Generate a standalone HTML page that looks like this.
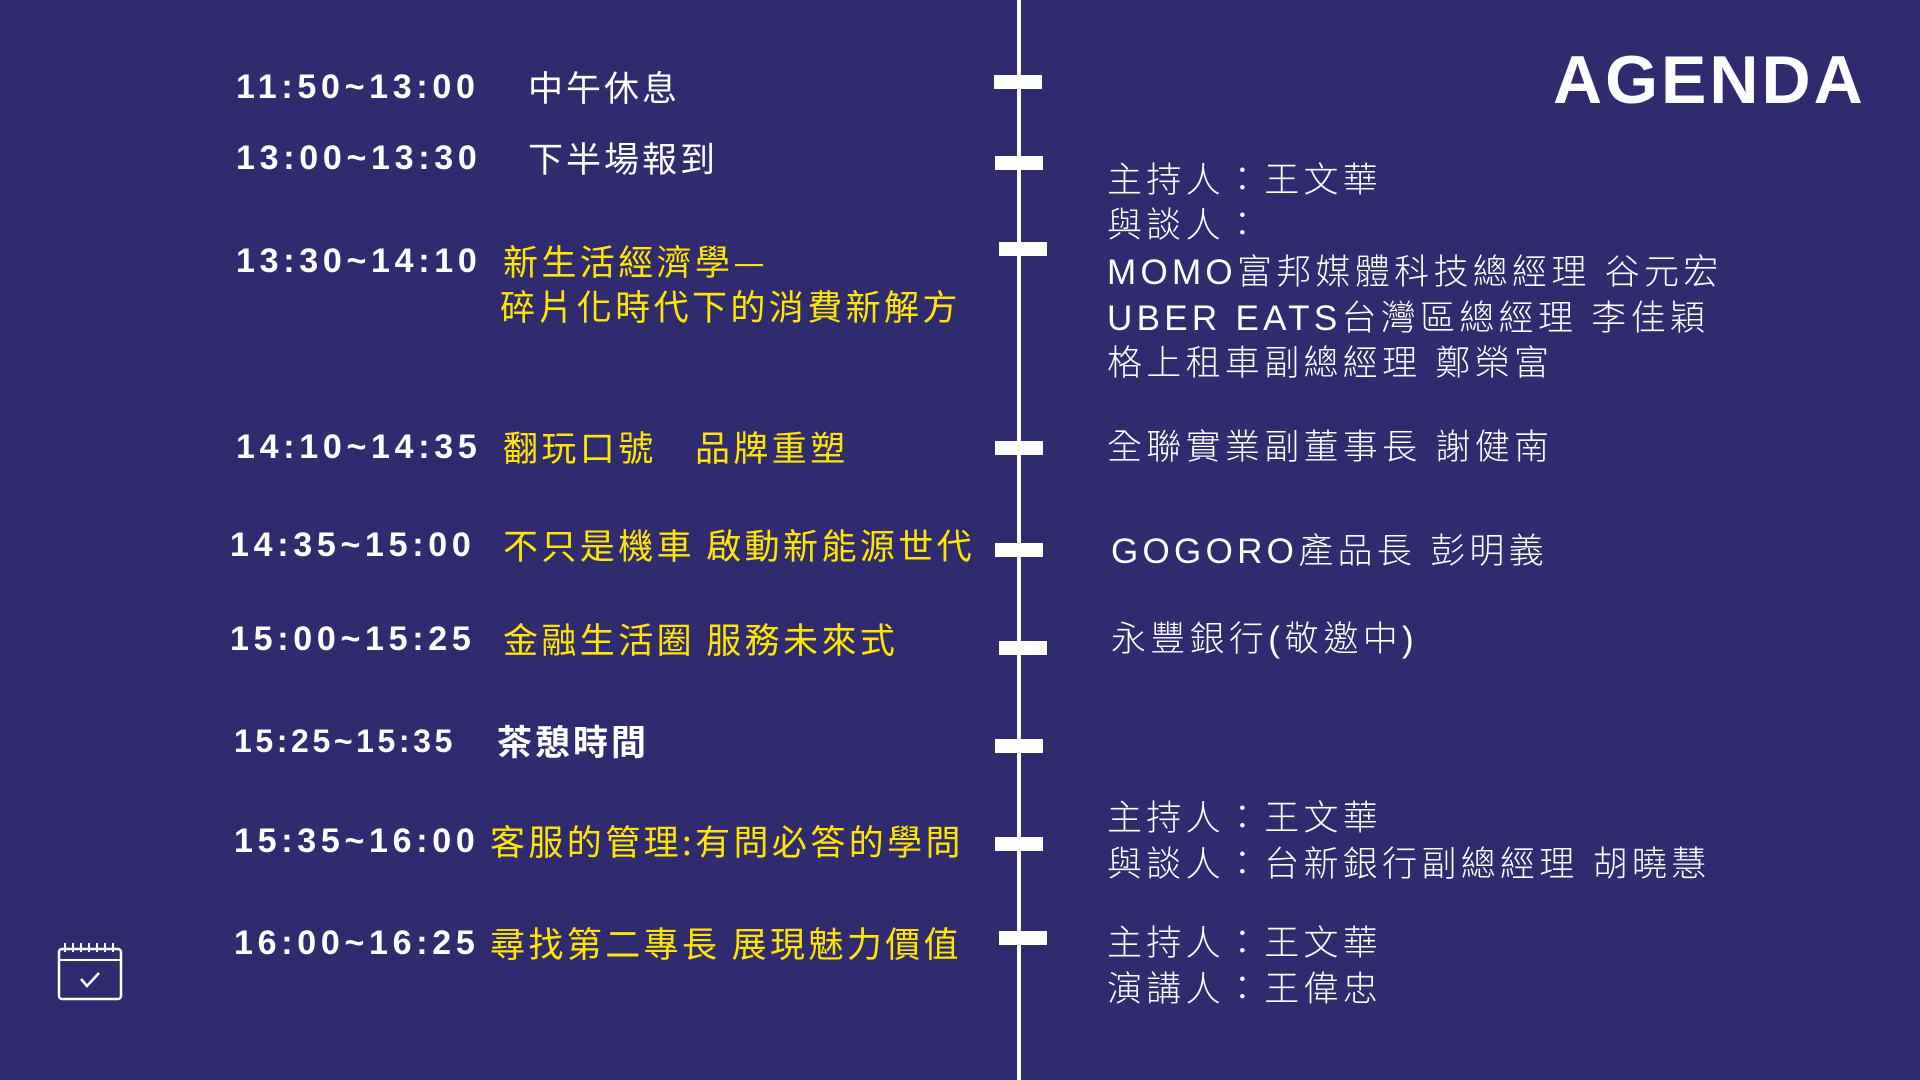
<!DOCTYPE html>
<html><head><meta charset="utf-8"><style>
body{margin:0;width:1920px;height:1080px;background:#302a6e;position:relative;overflow:hidden;font-family:"Liberation Sans","Noto Sans CJK TC",sans-serif;color:#fff}
.a{position:absolute;white-space:nowrap;line-height:46px}
.t{font-weight:bold;font-size:34px;letter-spacing:4.7px}
.y{color:#ffe600;font-size:35px;letter-spacing:3.4px;font-family:"Noto Sans CJK TC","Liberation Sans",sans-serif}
.w{font-size:35px;letter-spacing:3px;font-family:"Noto Sans CJK TC","Liberation Sans",sans-serif}
.r{font-size:35px;letter-spacing:4.3px;font-family:"Liberation Sans","Noto Sans CJK TC",sans-serif;font-weight:300}
.tk{position:absolute;background:#fff;height:14px;width:48px}
</style></head><body>
<div style="position:absolute;left:1017px;top:0;width:4px;height:1080px;background:#fff"></div>
<div class="tk" style="left:994px;top:75px"></div>
<div class="tk" style="left:995px;top:156px"></div>
<div class="tk" style="left:999px;top:242px"></div>
<div class="tk" style="left:995px;top:441px"></div>
<div class="tk" style="left:995px;top:543px"></div>
<div class="tk" style="left:999px;top:641px"></div>
<div class="tk" style="left:995px;top:739px"></div>
<div class="tk" style="left:995px;top:837px"></div>
<div class="tk" style="left:999px;top:931px"></div>

<div class="a" style="left:1553px;top:42px;font-size:68px;font-weight:bold;letter-spacing:3px;line-height:76px">AGENDA</div>

<div class="a t" style="left:236px;top:64px">11:50~13:00</div>
<div class="a w" style="left:528px;top:64px">中午休息</div>
<div class="a t" style="left:236px;top:135px">13:00~13:30</div>
<div class="a w" style="left:528px;top:135px">下半場報到</div>
<div class="a t" style="left:236px;top:238px">13:30~14:10</div>
<div class="a y" style="left:503px;top:238px">新生活經濟學—</div>
<div class="a y" style="left:500px;top:283px">碎片化時代下的消費新解方</div>
<div class="a t" style="left:236px;top:424px">14:10~14:35</div>
<div class="a y" style="left:503px;top:424px">翻玩口號　品牌重塑</div>
<div class="a t" style="left:230px;top:522px">14:35~15:00</div>
<div class="a y" style="left:503px;top:522px">不只是機車 啟動新能源世代</div>
<div class="a t" style="left:230px;top:616px">15:00~15:25</div>
<div class="a y" style="left:503px;top:616px">金融生活圈 服務未來式</div>
<div class="a t" style="left:234px;top:718px;font-size:32px;letter-spacing:3.6px">15:25~15:35</div>
<div class="a w" style="left:497px;top:718px;font-weight:bold">茶憩時間</div>
<div class="a t" style="left:234px;top:818px">15:35~16:00</div>
<div class="a y" style="left:490px;top:818px">客服的管理:有問必答的學問</div>
<div class="a t" style="left:234px;top:920px">16:00~16:25</div>
<div class="a y" style="left:490px;top:920px">尋找第二專長 展現魅力價值</div>

<div class="a r" style="left:1107px;top:158px">主持人：王文華</div>
<div class="a r" style="left:1107px;top:203px">與談人：</div>
<div class="a r" style="left:1107px;top:250px">MOMO富邦媒體科技總經理 谷元宏</div>
<div class="a r" style="left:1107px;top:296px">UBER EATS台灣區總經理 李佳穎</div>
<div class="a r" style="left:1107px;top:341px">格上租車副總經理 鄭榮富</div>
<div class="a r" style="left:1107px;top:425px">全聯實業副董事長 謝健南</div>
<div class="a r" style="left:1111px;top:529px">GOGORO產品長 彭明義</div>
<div class="a r" style="left:1111px;top:617px">永豐銀行(敬邀中)</div>
<div class="a r" style="left:1107px;top:796px">主持人：王文華</div>
<div class="a r" style="left:1107px;top:842px">與談人：台新銀行副總經理 胡曉慧</div>
<div class="a r" style="left:1107px;top:921px">主持人：王文華</div>
<div class="a r" style="left:1107px;top:967px">演講人：王偉忠</div>

<svg style="position:absolute;left:56px;top:940px" width="70" height="62" viewBox="0 0 70 62">
<rect x="3" y="9" width="62" height="50" rx="3" fill="none" stroke="#fff" stroke-width="2.5"/>
<line x1="3" y1="20" x2="65" y2="20" stroke="#fff" stroke-width="2"/>
<g stroke="#fff" stroke-width="2">
<line x1="9" y1="3" x2="9" y2="12"/><line x1="17" y1="3" x2="17" y2="12"/><line x1="25" y1="3" x2="25" y2="12"/><line x1="33" y1="3" x2="33" y2="12"/><line x1="41" y1="3" x2="41" y2="12"/><line x1="49" y1="3" x2="49" y2="12"/><line x1="57" y1="3" x2="57" y2="12"/></g>
<polyline points="25,39 31,46 43,33" fill="none" stroke="#fff" stroke-width="2.5"/>
</svg>
</body></html>
